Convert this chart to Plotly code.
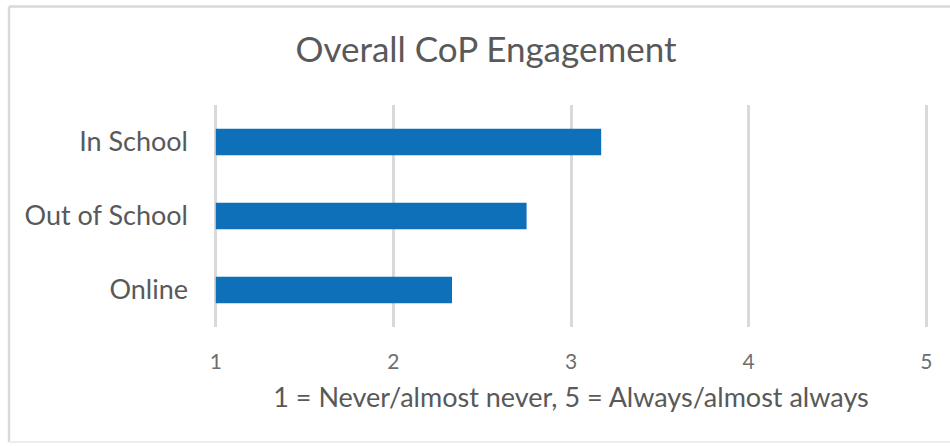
import plotly.graph_objects as go

categories = ["Online", "Out of School", "In School"]
values = [2.33, 2.75, 3.17]
x_ticks = [1, 2, 3, 4, 5]
title_text = "Overall CoP Engagement"
x_title = "1 = Never/almost never, 5 = Always/almost always"

W, H = 950, 446
L, R, T, B = 214, 22, 105, 119
pw, ph = W - L - R, H - T - B
FONT = "Lato, Carlito, sans-serif"
GRAY = "#595959"

base = 1
fig = go.Figure(go.Bar(
    y=categories, x=[v - base for v in values], base=base,
    orientation="h", marker=dict(color="#0E70B8", line=dict(width=0)),
    width=0.36,
))

def px2x(px):
    return (px - L) / pw

def py2y(py):
    return (H - B - py) / ph

fig.update_layout(
    width=W, height=H,
    margin=dict(l=L, r=R, t=T, b=B, autoexpand=False),
    paper_bgcolor="white", plot_bgcolor="white",
    showlegend=False,
    title=dict(text=title_text, x=px2x(486), xref="paper", xanchor="center",
               y=1 - 50 / H, yanchor="middle",
               font=dict(family=FONT, size=35, color=GRAY)),
    xaxis=dict(range=[0.99, 5.01], tickvals=x_ticks, showgrid=True,
               gridcolor="#D9D9D9", gridwidth=2.5, zeroline=False,
               showline=False, ticklabelstandoff=20,
               tickfont=dict(family=FONT, size=21, color="#6E6E6E"),
               title=dict(text=x_title, standoff=16,
                          font=dict(family=FONT, size=27, color=GRAY))),
    yaxis=dict(range=[-0.5, 2.5], showgrid=False, zeroline=False,
               showline=False, ticklabelstandoff=25,
               tickfont=dict(family=FONT, size=27, color=GRAY)),
    shapes=[
        dict(type="line", xref="paper", yref="paper",
             x0=px2x(9), x1=px2x(9), y0=py2y(442), y1=py2y(6.5),
             line=dict(color="#D9D9D9", width=2.5), layer="below"),
        dict(type="line", xref="paper", yref="paper",
             x0=px2x(9), x1=px2x(1000), y0=py2y(6.5), y1=py2y(6.5),
             line=dict(color="#D9D9D9", width=2.5), layer="below"),
        dict(type="line", xref="paper", yref="paper",
             x0=px2x(9), x1=px2x(1000), y0=py2y(442), y1=py2y(442),
             line=dict(color="#EDEDED", width=2), layer="below"),
    ],
)

fig.write_html("out.html", config={"displayModeBar": False},
               post_script="document.body.style.margin='0';")
